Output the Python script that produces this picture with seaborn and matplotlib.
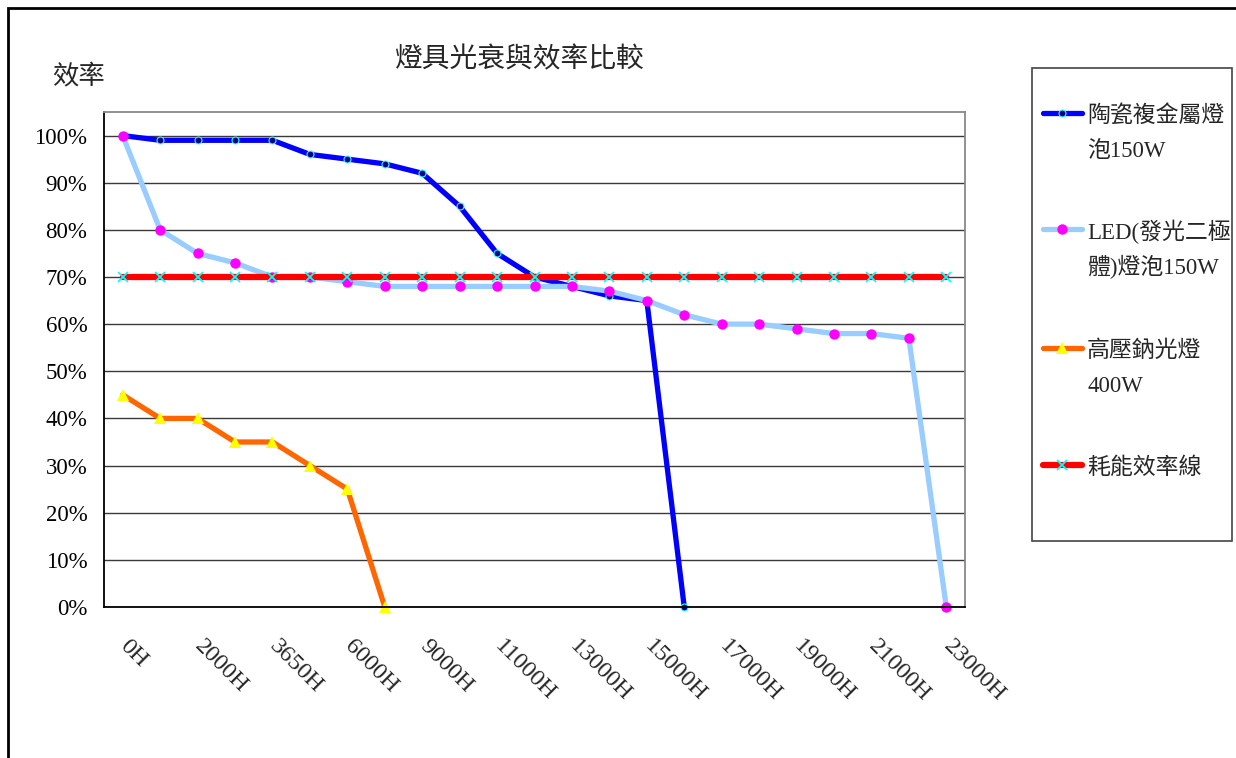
import numpy as np
import pandas as pd
import matplotlib
matplotlib.use("Agg")
import matplotlib.pyplot as plt
import seaborn as sns
from matplotlib.lines import Line2D
from matplotlib.patches import Rectangle
from matplotlib.ticker import FuncFormatter
from matplotlib.transforms import ScaledTranslation

# ===================== DATA =====================
n_points = 23
tick_labels = ["0H", "2000H", "3650H", "6000H", "9000H", "11000H",
               "13000H", "15000H", "17000H", "19000H", "21000H", "23000H"]

cmh_150w = [100, 99, 99, 99, 99, 96, 95, 94, 92, 85, 75, 70, 68, 66, 65, 0]
led_150w = [100, 80, 75, 73, 70, 70, 69, 68, 68, 68, 68, 68, 68, 67, 65,
            62, 60, 60, 59, 58, 58, 57, 0]
hps_400w = [45, 40, 40, 35, 35, 30, 25, 0]
eff_line = [70, 70, 70, 70, 70, 70, 70, 70, 70, 70, 70, 70,
            70, 70, 70, 70, 70, 70, 70, 70, 70, 70, 70]

series_names = ["陶瓷複金屬燈泡150W", "LED(發光二極體)燈泡150W",
                "高壓鈉光燈400W", "耗能效率線"]
legend_lines = [["陶瓷複金屬燈", "泡150W"], ["LED(發光二極", "體)燈泡150W"],
                ["高壓鈉光燈", "400W"], ["耗能效率線"]]

# ===================== STYLE =====================
W, H = 1236, 758
sns.set_style("white")
plt.rcParams["font.family"] = ["Liberation Serif", "Noto Sans CJK TC", "DejaVu Sans"]

styles = [
    dict(color="#0000FF", lw=3.8, marker="o", markersize=5,
         markerfacecolor="#000080", markeredgecolor="#33FFFF", markeredgewidth=0.8),
    dict(color="#99CCFF", lw=3.8, marker="o", markersize=7.5,
         markerfacecolor="#FF00FF", markeredgecolor="#FF00FF", markeredgewidth=0),
    dict(color="#FF6600", lw=3.8, marker="^", markersize=9,
         markerfacecolor="#FFFF00", markeredgecolor="#FFFF00", markeredgewidth=0),
    dict(color="#FF0000", lw=4.5, marker="x", markersize=7,
         markerfacecolor="#00FFFF", markeredgecolor="#00FFFF", markeredgewidth=1.3),
]

fig = plt.figure(figsize=(W / 100, H / 100), dpi=100)
ax = fig.add_axes([104 / W, 1 - 607 / H, (965 - 104) / W, (607 - 112) / H])

# ===================== LINES =====================
all_series = [cmh_150w, led_150w, hps_400w, eff_line]
for vals, st, name in zip(all_series, styles, series_names):
    df = pd.DataFrame({"x": np.arange(len(vals)), "y": vals})
    sns.lineplot(data=df, x="x", y="y", ax=ax, legend=False, **st)

for line in ax.get_lines():
    line.set_clip_on(False)

# ===================== AXES =====================
ax.set_xlim(-0.5, n_points - 0.5)
ax.set_ylim(0, 105)
ax.set_xlabel("")
ax.set_ylabel("")

ax.set_yticks(np.arange(0, 101, 10))
ax.yaxis.set_major_formatter(FuncFormatter(lambda v, p: f"{int(v)}%"))
ax.tick_params(axis="y", direction="out", length=4, width=1, pad=8,
               labelsize=16.5, colors="black")
ax.grid(axis="y", color="#3a3a3a", lw=1)
ax.set_axisbelow(True)

ax.set_xticks(np.arange(-0.5, n_points, 1))
ax.set_xticklabels([])
ax.tick_params(axis="x", which="major", direction="in", length=6, width=1)
ax.set_xticks(np.arange(0, n_points, 2), tick_labels, minor=True)
ax.tick_params(axis="x", which="minor", length=0, pad=21, labelsize=17.5)
shift = ScaledTranslation(8 / 100, 0, fig.dpi_scale_trans)
for lbl in ax.get_xticklabels(minor=True):
    lbl.set_rotation(-45)
    lbl.set_ha("left")
    lbl.set_va("top")
    lbl.set_rotation_mode("anchor")
    lbl.set_transform(lbl.get_transform() + shift)

for side in ["left", "bottom"]:
    ax.spines[side].set_color("black")
    ax.spines[side].set_linewidth(1.3)
for side in ["top", "right"]:
    ax.spines[side].set_color("#888888")
    ax.spines[side].set_linewidth(1.3)

# ===================== TEXT =====================
fig.text(520 / W, 1 - 60 / H, "燈具光衰與效率比較", ha="center", va="center", fontsize=20)
fig.text(52 / W, 1 - 76 / H, "效率", ha="left", va="center", fontsize=19)

# ===================== LEGEND =====================
fig.add_artist(Rectangle((1032 / W, 1 - 541 / H), 200 / W, 473 / H,
                         transform=fig.transFigure, fill=False,
                         edgecolor="#444444", lw=1.2))
entry_y = [113, 229, 348, 465]
for st, lines, y in zip(styles, legend_lines, entry_y):
    fy = 1 - y / H
    fig.add_artist(Line2D([1043 / W, 1082 / W], [fy, fy], transform=fig.transFigure,
                          color=st["color"], lw=st["lw"], solid_capstyle="round"))
    fig.add_artist(Line2D([1062 / W], [fy], transform=fig.transFigure, lw=0,
                          marker=st["marker"], markersize=st["markersize"],
                          markerfacecolor=st["markerfacecolor"],
                          markeredgecolor=st["markeredgecolor"],
                          markeredgewidth=st["markeredgewidth"]))
    for k, txt in enumerate(lines):
        fig.text(1087 / W, 1 - (y + 3 + 35 * k) / H, txt, ha="left", va="center",
                 fontsize=16.5)

# ===================== FIGURE BORDER =====================
fig.add_artist(Rectangle((8 / W, -0.2), 1.2, 1.2 - 8 / H, transform=fig.transFigure,
                         fill=False, edgecolor="black", lw=2))

fig.savefig("out.png", dpi=100)
